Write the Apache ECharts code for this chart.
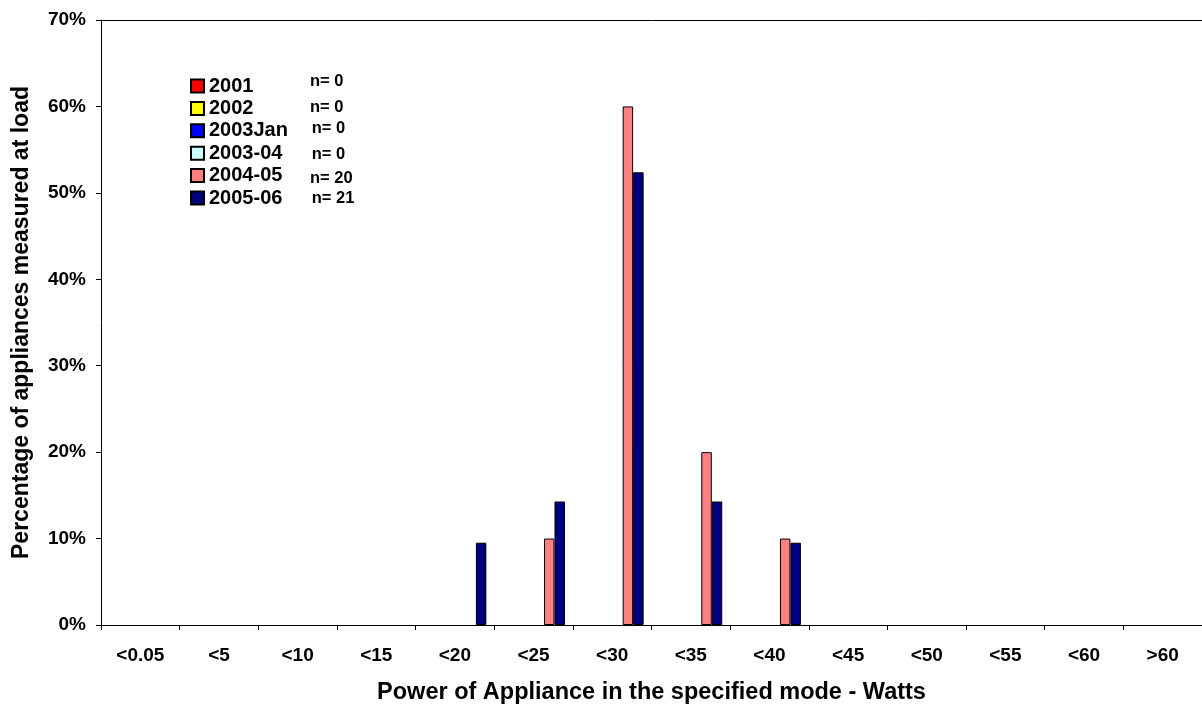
<!DOCTYPE html>
<html>
<head>
<meta charset="utf-8">
<script src="https://cdn.jsdelivr.net/npm/echarts@6/dist/echarts.min.js"></script>
<style>html,body{margin:0;padding:0;background:#fff}#c{width:1202px;height:707px}</style>
</head>
<body>
<div id="c"></div>
<script>
const categories = ['<0.05','<5','<10','<15','<20','<25','<30','<35','<40','<45','<50','<55','<60','>60'];
const seriesNames = ['2001','2002','2003Jan','2003-04','2004-05','2005-06'];
const nLabels = ['n= 0','n= 0','n= 0','n= 0','n= 20','n= 21'];
const s2001    = [0,0,0,0,0,0,0,0,0,0,0,0,0,0];
const s2002    = [0,0,0,0,0,0,0,0,0,0,0,0,0,0];
const s2003Jan = [0,0,0,0,0,0,0,0,0,0,0,0,0,0];
const s2003_04 = [0,0,0,0,0,0,0,0,0,0,0,0,0,0];
const s2004_05 = [0,0,0,0,0,10,60,20,10,0,0,0,0,0];
const s2005_06 = [0,0,0,0,9.52,14.29,52.38,14.29,9.52,0,0,0,0,0];
const yTicks = [0,10,20,30,40,50,60,70];

const colors = ['#FF0000','#FFFF00','#0000FF','#CCFFFF','#FF8080','#000080'];
const allData = [s2001,s2002,s2003Jan,s2003_04,s2004_05,s2005_06];

const chart = echarts.init(document.getElementById('c'));
const font = 'Liberation Sans, Arial, sans-serif';
const nYs = [81.7,107.7,128.3,154.3,178.3,198.3];
const nXs = [310,310,311.7,311.7,310,311.7];

chart.setOption({
  animation: false,
  textStyle: {fontFamily: font},
  grid: {left: 101, right: 0, top: 20, bottom: 82, outerBoundsMode: 'none', containLabel: false},
  legend: {
    orient: 'vertical', left: 190, top: 76, padding: 0,
    itemWidth: 13, itemHeight: 13, itemGap: 2.4,
    icon: 'rect',
    textStyle: {fontFamily: font, fontWeight: 'bold', fontSize: 20, color: '#000', lineHeight: 20},
    data: seriesNames
  },
  xAxis: [{
    type: 'category', data: categories,
    axisLine: {lineStyle: {color: '#000', width: 1}},
    axisTick: {show: true, length: 5, lineStyle: {color: '#000'}},
    axisLabel: {color: '#000', fontWeight: 'bold', fontSize: 19, margin: 21, fontFamily: font, interval: 0},
    name: 'Power of Appliance in the specified mode - Watts',
    nameLocation: 'middle', nameGap: 56,
    nameTextStyle: {color: '#000', fontWeight: 'bold', fontSize: 23.5, fontFamily: font}
  }, {
    type: 'category', data: categories, position: 'top',
    axisLine: {show: true, lineStyle: {color: '#000', width: 1}},
    axisTick: {show: false}, axisLabel: {show: false}
  }],
  yAxis: {
    type: 'value', min: 0, max: 70, interval: 10,
    axisLine: {show: true, lineStyle: {color: '#000', width: 1}},
    axisTick: {show: true, length: 5, lineStyle: {color: '#000'}},
    splitLine: {show: false},
    axisLabel: {color: '#000', fontWeight: 'bold', fontSize: 19, margin: 15, fontFamily: font, formatter: v => v + '%'},
    name: 'Percentage of appliances measured at load',
    nameLocation: 'middle', nameGap: 68,
    nameTextStyle: {color: '#000', fontWeight: 'bold', fontSize: 23, fontFamily: font}
  },
  series: allData.map((d, i) => ({
    name: seriesNames[i], type: 'bar', xAxisIndex: 0,
    data: d.map(v => v === 0 ? null : v),
    barGap: '0%', barCategoryGap: '20%',
    itemStyle: {color: colors[i], borderColor: '#000', borderWidth: 1}
  })),
  graphic: nLabels.map((t, i) => ({
    type: 'text', x: nXs[i], y: nYs[i],
    style: {text: t, font: 'bold 16.5px ' + font, fill: '#000', textVerticalAlign: 'middle', verticalAlign: 'middle'}
  }))
});
</script>
</body>
</html>
